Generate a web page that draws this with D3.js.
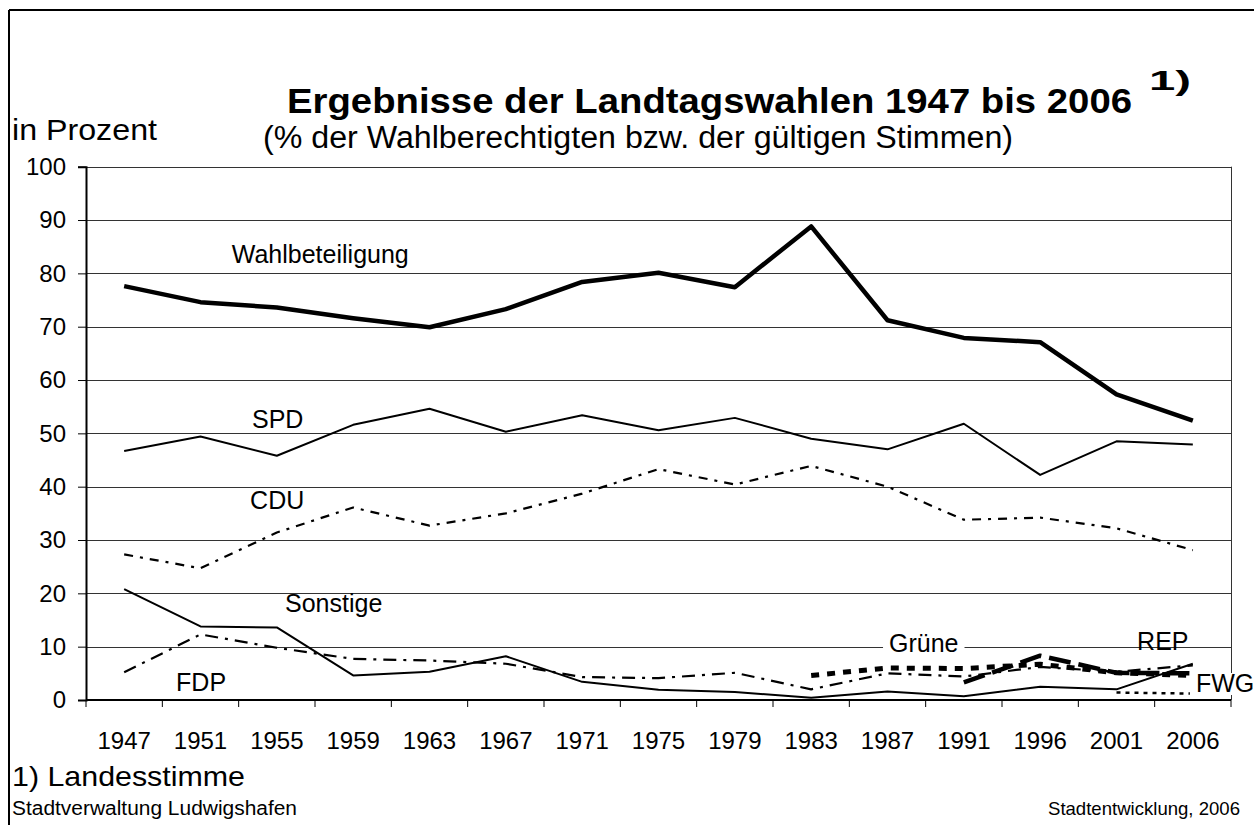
<!DOCTYPE html>
<html>
<head>
<meta charset="utf-8">
<script src="https://cdn.jsdelivr.net/npm/d3@7"></script>
<style>
  html, body { margin: 0; padding: 0; background: #fff; }
  svg { display: block; font-family: "Liberation Sans", Arial, sans-serif; }
</style>
</head>
<body>
<svg id="chart" width="1254" height="825"></svg>
<script>
// ---- data ----
const years = ["1947","1951","1955","1959","1963","1967","1971","1975","1979","1983","1987","1991","1996","2001","2006"];
const wahlbeteiligung = [77.6, 74.6, 73.6, 71.6, 69.9, 73.3, 78.4, 80.1, 77.4, 88.8, 71.2, 67.9, 67.1, 57.3, 52.4];
const spd      = [46.7, 49.4, 45.8, 51.6, 54.6, 50.3, 53.4, 50.6, 52.9, 49.0, 47.0, 51.8, 42.2, 48.5, 47.9];
const cdu      = [27.3, 24.7, 31.4, 36.1, 32.7, 35.0, 38.7, 43.3, 40.4, 43.9, 40.0, 33.8, 34.2, 32.2, 28.1];
const sonstige = [20.8, 13.8, 13.6, 4.6, 5.3, 8.2, 3.4, 1.9, 1.5, 0.4, 1.6, 0.7, 2.5, 2.0, 6.8];
const fdp      = [5.2, 12.3, 9.8, 7.7, 7.4, 6.8, 4.3, 4.1, 5.1, 2.0, 5.0, 4.4, 6.2, 5.3, 6.5];
const gruene   = [null, null, null, null, null, null, null, null, null, 4.6, 6.0, 5.9, 6.7, 5.1, 4.6];
const rep      = [null, null, null, null, null, null, null, null, null, null, null, 3.3, 8.3, 5.1, 5.0];
const fwg      = [null, null, null, null, null, null, null, null, null, null, null, null, null, 1.4, 1.2];
const yTicks   = [0, 10, 20, 30, 40, 50, 60, 70, 80, 90, 100];

const seriesLabels = ["Wahlbeteiligung", "SPD", "CDU", "Sonstige", "FDP", "Grüne", "REP", "FWG"];
// label anchors: position in category units (0..15) and value
const labelPosU = [1.91, 2.175, 2.15, 2.607, 1.18, 10.52, 13.77, 14.54];
const labelPosV = [81.9, 51.0, 35.8, 16.5, 1.7, 9.0, 9.4, 1.5];

// ---- layout ----
const svg = d3.select("#chart");
const W = 1254, H = 825;
const plot = { left: 86, right: 1231, top: 166.7, bottom: 700 };

const x = d3.scaleBand().domain(years).range([plot.left, plot.right]).padding(0);
const xU = d3.scaleLinear().domain([0, years.length]).range([plot.left, plot.right]);
const y = d3.scaleLinear().domain([0, 100]).range([plot.bottom, plot.top]);

// outer frame (top + left)
svg.append("line").attr("x1", 9).attr("x2", W).attr("y1", 10).attr("y2", 10)
  .attr("stroke", "#000").attr("stroke-width", 2);
svg.append("line").attr("x1", 9).attr("x2", 9).attr("y1", 10).attr("y2", H)
  .attr("stroke", "#000").attr("stroke-width", 2);

// gridlines
svg.append("g").selectAll("line").data(yTicks.filter(t => t > 0)).join("line")
  .attr("x1", plot.left).attr("x2", plot.right)
  .attr("y1", d => Math.round(y(d)) + 0.5).attr("y2", d => Math.round(y(d)) + 0.5)
  .attr("stroke", "#333").attr("stroke-width", 1);

// right border of plot
svg.append("line").attr("x1", plot.right + 0.5).attr("x2", plot.right + 0.5)
  .attr("y1", y(100)).attr("y2", y(0)).attr("stroke", "#333").attr("stroke-width", 1);

// y axis
const yAxis = d3.axisLeft(y).tickValues(yTicks).tickSize(8).tickPadding(12);
const gy = svg.append("g").attr("transform", `translate(${plot.left},0)`).call(yAxis);
gy.select(".domain").attr("stroke", "#000").attr("stroke-width", 2);
gy.selectAll(".tick line").attr("stroke", "#000").attr("stroke-width", 1);
gy.selectAll(".tick text").attr("font-size", 24).attr("fill", "#000")
  .attr("font-family", "Liberation Sans, Arial, sans-serif");

// x axis: ticks at band boundaries
const gx = svg.append("g").attr("transform", `translate(0,${plot.bottom})`);
gx.append("line").attr("x1", plot.left).attr("x2", plot.right).attr("y1", 0).attr("y2", 0)
  .attr("stroke", "#000").attr("stroke-width", 2);
gx.selectAll("line.tk").data(d3.range(years.length + 1)).join("line").attr("class", "tk")
  .attr("x1", d => xU(d)).attr("x2", d => xU(d)).attr("y1", 0).attr("y2", 7)
  .attr("stroke", "#000").attr("stroke-width", 1);
gx.selectAll("text").data(years).join("text")
  .attr("x", d => x(d) + x.bandwidth() / 2).attr("y", 49)
  .attr("text-anchor", "middle").attr("font-size", 24).attr("fill", "#000")
  .text(d => d);

// lines
const cx = (d, i) => x(years[i]) + x.bandwidth() / 2;
const lineGen = d3.line().defined(d => d != null).x((d, i) => cx(d, i)).y(d => y(d));

const series = [
  { data: wahlbeteiligung, width: 4.5, dash: null },
  { data: spd, width: 2, dash: null },
  { data: cdu, width: 2.2, dash: "9,7,3,7" },
  { data: sonstige, width: 2, dash: null },
  { data: fdp, width: 2.2, dash: "13,7,3,7" },
  { data: gruene, width: 5, dash: "8,8" },
  { data: rep, width: 4.5, dash: "22,8" },
  { data: fwg, width: 2.5, dash: "4,5" }
];
const gl = svg.append("g");
series.forEach(s => {
  gl.append("path").datum(s.data).attr("d", lineGen)
    .attr("fill", "none").attr("stroke", "#000").attr("stroke-width", s.width)
    .attr("stroke-dasharray", s.dash).attr("stroke-linejoin", "round");
});

// series labels
const gLab = svg.append("g");
seriesLabels.forEach((t, i) => {
  const tx = gLab.append("text").attr("x", xU(labelPosU[i])).attr("y", y(labelPosV[i]))
    .attr("font-size", 25).attr("fill", "#000").text(t);
  if (t === "Grüne" || t === "FWG") {
    const bb = tx.node().getBBox();
    gLab.insert("rect", () => tx.node())
      .attr("x", bb.x - 6).attr("y", bb.y + 4).attr("width", bb.width + 12).attr("height", bb.height - 6)
      .attr("fill", "#fff");
  }
});

// titles and notes (widths matched to the reference)
function txt(str, xx, yy, size, opts = {}) {
  const t = svg.append("text").attr("x", xx).attr("y", yy).attr("font-size", size)
    .attr("fill", "#000").text(str);
  if (opts.bold) t.attr("font-weight", "bold");
  if (opts.anchor) t.attr("text-anchor", opts.anchor);
  if (opts.len) t.attr("textLength", opts.len).attr("lengthAdjust", "spacingAndGlyphs");
  return t;
}
txt("Ergebnisse der Landtagswahlen 1947 bis 2006", 287, 113, 35, { bold: true, len: 845 });
txt("1)", 1149, 90, 28, { bold: true, len: 42 });
txt("(% der Wahlberechtigten bzw. der gültigen Stimmen)", 263, 148, 31, { len: 750 });
txt("in Prozent", 12, 140, 29, { len: 145 });
txt("1) Landesstimme", 12, 786, 28, { len: 233 });
txt("Stadtverwaltung Ludwigshafen", 12, 815, 20, { len: 285 });
txt("Stadtentwicklung, 2006", 1048, 815, 19, { len: 192 });
</script>
</body>
</html>
